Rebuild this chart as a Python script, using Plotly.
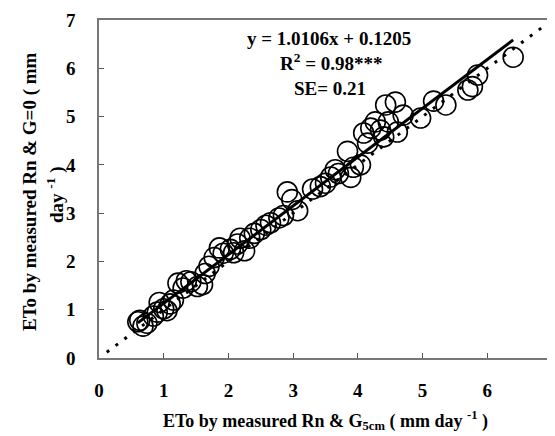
import plotly.graph_objects as go

x_obs = [0.60, 0.63, 0.68, 0.74, 0.84, 0.90, 0.93, 1.00, 1.05, 1.10, 1.15, 1.22, 1.30, 1.35,
         1.42, 1.52, 1.60, 1.64, 1.70, 1.78, 1.86, 1.92, 2.03, 2.08, 2.14, 2.18, 2.25, 2.33,
         2.40, 2.50, 2.58, 2.65, 2.78, 2.85, 2.91, 2.98, 3.07, 3.30, 3.42, 3.50, 3.58, 3.65,
         3.70, 3.84, 3.89, 3.93, 4.04, 4.09, 4.15, 4.20, 4.27, 4.35, 4.40, 4.43, 4.47, 4.58,
         4.61, 4.70, 4.97, 5.17, 5.36, 5.70, 5.77, 5.85, 6.40]
y_obs = [0.75, 0.78, 0.66, 0.72, 0.87, 0.95, 1.15, 1.02, 0.98, 1.12, 1.20, 1.55, 1.45, 1.60,
         1.58, 1.48, 1.52, 1.75, 1.90, 2.08, 2.28, 2.17, 2.25, 2.18, 2.36, 2.48, 2.22, 2.48,
         2.58, 2.66, 2.75, 2.80, 2.90, 2.95, 3.44, 3.28, 3.05, 3.50, 3.55, 3.62, 3.75, 3.90,
         3.82, 4.28, 3.74, 3.95, 4.00, 4.66, 4.45, 4.76, 4.89, 4.72, 4.58, 5.24, 4.89, 5.30,
         4.68, 5.03, 4.97, 5.32, 5.24, 5.55, 5.62, 5.86, 6.23]

slope = 1.0106
intercept = 0.1205
fit_x = [min(x_obs), max(x_obs)]
fit_y = [slope * v + intercept for v in fit_x]
one_to_one = [0.12, 6.9]

tick_vals = [0, 1, 2, 3, 4, 5, 6, 7]
tick_text = ["0", "1", "2", "3", "4", "5", "6", "7"]

FONT = "Liberation Serif"

fig = go.Figure()
fig.add_trace(go.Scatter(x=x_obs, y=y_obs, mode="markers",
                         marker=dict(symbol="circle-open", size=20, color="black",
                                     line=dict(width=1.6, color="black")),
                         showlegend=False))
fig.add_trace(go.Scatter(x=one_to_one, y=one_to_one, mode="lines",
                         line=dict(color="black", width=3, dash="3px,8px"), showlegend=False))
fig.add_trace(go.Scatter(x=fit_x, y=fit_y, mode="lines",
                         line=dict(color="black", width=3), showlegend=False))

axis_common = dict(range=[0, 7], tickvals=tick_vals, ticktext=["<b>%s</b>" % t for t in tick_text],
                   ticks="inside", ticklen=5, tickcolor="#555", tickwidth=1,
                   showline=True, linecolor="#777", linewidth=1.5, mirror=True,
                   showgrid=False, zeroline=False, automargin=False,
                   ticklabeloverflow="allow",
                   tickfont=dict(family=FONT, size=19, color="black"))

fig.update_xaxes(**axis_common, ticklabelstandoff=14)
fig.update_yaxes(**axis_common, ticklabelstandoff=18)

# page is offset by the 8px body margin
OFF = 8
W, H = 555 - OFF, 436 - OFF
L, T = 99 - OFF, 20 - OFF
R = W - (552 - OFF)
B = H - (358 - OFF)
pw, ph = W - L - R, H - T - B


def px2paper(px, py):
    return (px - OFF - L) / pw, 1 - (py - OFF - T) / ph


anns = [
    ("<b>y = 1.0106x + 0.1205</b>", 329, 39),
    ("<b>R<sup>2</sup> = 0.98***</b>", 331, 62),
    ("<b>SE= 0.21</b>", 330, 88),
]
for txt, px, py in anns:
    ax, ay = px2paper(px, py)
    fig.add_annotation(text=txt, x=ax, y=ay, xref="paper", yref="paper",
                       showarrow=False, xanchor="center", yanchor="middle",
                       font=dict(family=FONT, size=19, color="black"))

ax, ay = px2paper(325, 420)
fig.add_annotation(text="<b>ETo by measured Rn &amp; G<sub>5cm</sub> ( mm day <sup>-1</sup> )</b>",
                   x=ax, y=ay, xref="paper", yref="paper",
                   showarrow=False, xanchor="center", yanchor="middle",
                   font=dict(family=FONT, size=18, color="black"))
ax, ay = px2paper(30, 192)
fig.add_annotation(text="<b>ETo by measured Rn &amp; G=0 ( mm</b>",
                   x=ax, y=ay, xref="paper", yref="paper",
                   showarrow=False, xanchor="center", yanchor="middle", textangle=-90,
                   font=dict(family=FONT, size=19, color="black"))
ax, ay = px2paper(55, 195)
fig.add_annotation(text="<b>day <sup>-1</sup> )</b>",
                   x=ax, y=ay, xref="paper", yref="paper",
                   showarrow=False, xanchor="center", yanchor="middle", textangle=-90,
                   font=dict(family=FONT, size=19, color="black"))

fig.update_layout(width=W, height=H, margin=dict(l=L, r=R, t=T, b=B, autoexpand=False),
                  plot_bgcolor="white", paper_bgcolor="white")

fig.write_html("out.html")
